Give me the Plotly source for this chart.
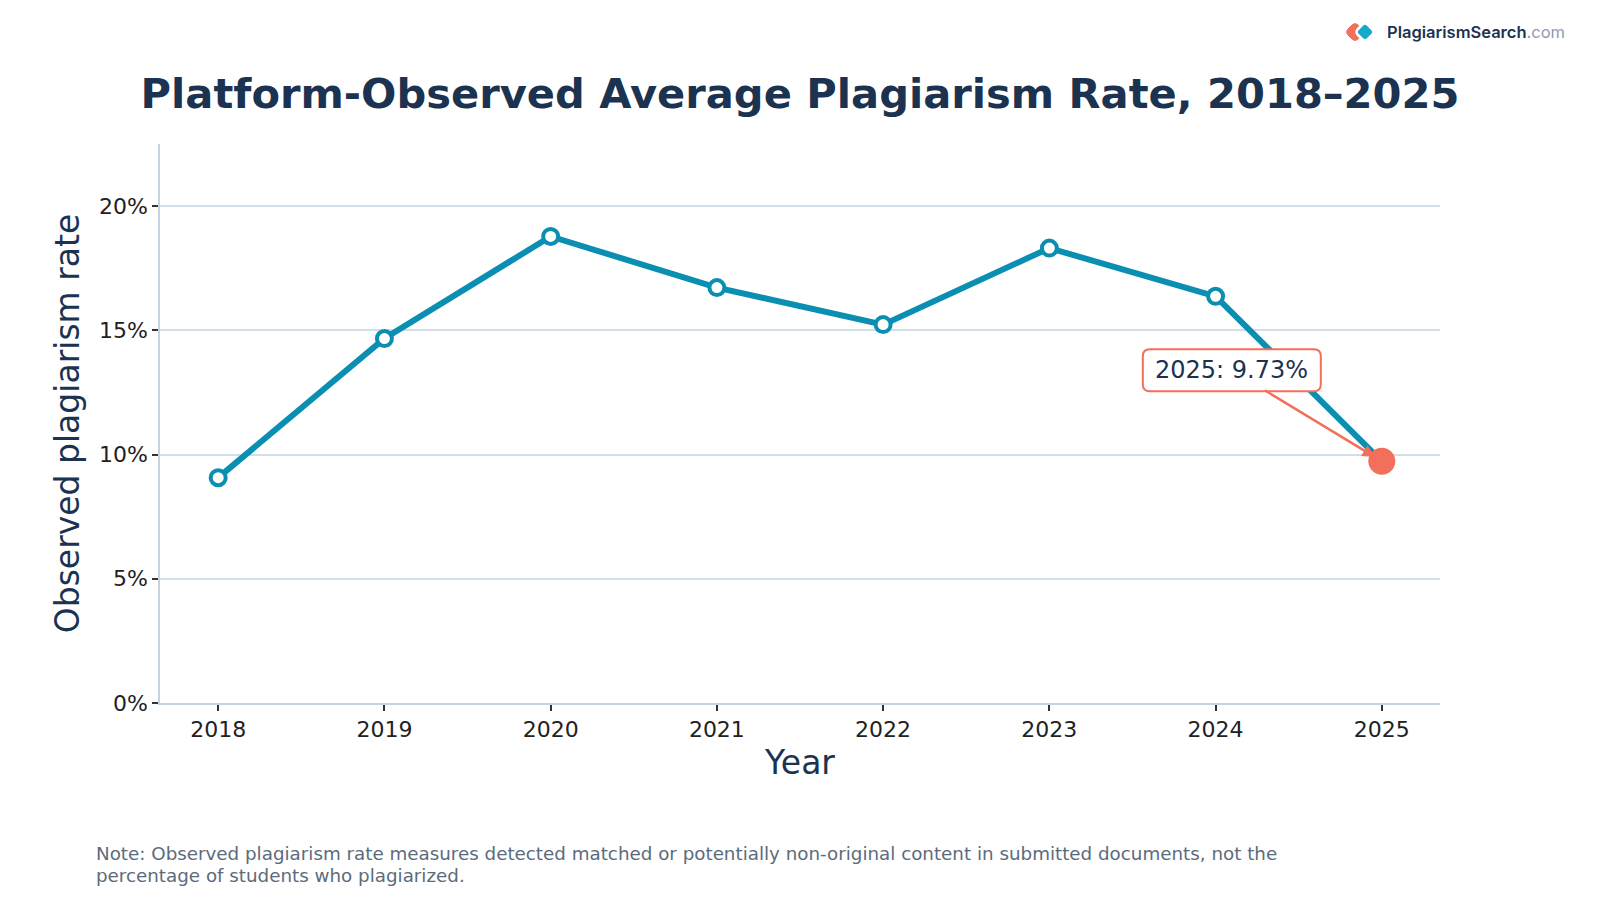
import plotly.graph_objects as go

years = [2018, 2019, 2020, 2021, 2022, 2023, 2024, 2025]
rates = [9.07, 14.67, 18.78, 16.72, 15.23, 18.31, 16.37, 9.73]
y_ticks = [0, 5, 10, 15, 20]
y_tick_labels = ["0%", "5%", "10%", "15%", "20%"]
note_lines = [
    "Note: Observed plagiarism rate measures detected matched or potentially non-original content in submitted documents, not the",
    "percentage of students who plagiarized.",
]

TEAL = "#0a8fb3"
CORAL = "#f26f5b"
NAVY = "#1b3350"
FONT = "DejaVu Sans"

fig = go.Figure()
fig.add_trace(go.Scatter(
    x=years, y=rates, mode="lines+markers",
    line=dict(color=TEAL, width=6),
    marker=dict(size=15, color="white", line=dict(color=TEAL, width=4)),
    showlegend=False, hoverinfo="x+y",
))
fig.add_trace(go.Scatter(
    x=[years[-1]], y=[rates[-1]], mode="markers",
    marker=dict(size=27, color=CORAL),
    showlegend=False,
))

# rounded annotation box (pixel offsets from the highlighted point)
x0, x1, y0, y1, r = -239, -61, 70, 112, 7
path = (f"M {x0+r},{y0} L {x1-r},{y0} Q {x1},{y0} {x1},{y0+r} L {x1},{y1-r} "
        f"Q {x1},{y1} {x1-r},{y1} L {x0+r},{y1} Q {x0},{y1} {x0},{y1-r} "
        f"L {x0},{y0+r} Q {x0},{y0} {x0+r},{y0} Z")
fig.add_shape(type="path", path=path, xref="x", yref="y",
              xsizemode="pixel", ysizemode="pixel",
              xanchor=years[-1], yanchor=rates[-1],
              fillcolor="white", line=dict(color=CORAL, width=2), layer="above")

fig.add_annotation(
    x=years[-1], y=rates[-1], xref="x", yref="y",
    text=f"{years[-1]}: {rates[-1]:.2f}%",
    font=dict(family=FONT, size=24, color=NAVY),
    ax=-150, ay=-91, showarrow=True,
    arrowcolor=CORAL, arrowwidth=2.5, arrowhead=2, arrowsize=1, standoff=8,
    bgcolor="rgba(0,0,0,0)", bordercolor="rgba(0,0,0,0)", borderwidth=2, borderpad=5,
)

# logo icon (rounded diamonds)
def rdiamond(cx, cy, h, k=3):
    return (f"M {cx-h+k},{cy+k} L {cx-k},{cy+h-k} Q {cx},{cy+h} {cx+k},{cy+h-k} "
            f"L {cx+h-k},{cy+k} Q {cx+h},{cy} {cx+h-k},{cy-k} "
            f"L {cx+k},{cy-h+k} Q {cx},{cy-h} {cx-k},{cy-h+k} "
            f"L {cx-h+k},{cy-k} Q {cx-h},{cy} {cx-h+k},{cy+k} Z")

fig.add_shape(type="path", path=rdiamond(-85, 112, 10), xref="paper", yref="paper",
              xsizemode="pixel", ysizemode="pixel", xanchor=1, yanchor=1,
              fillcolor=CORAL, line=dict(color=CORAL, width=1))
fig.add_shape(type="path", path=rdiamond(-75, 112, 10), xref="paper", yref="paper",
              xsizemode="pixel", ysizemode="pixel", xanchor=1, yanchor=1,
              fillcolor="#17a9c8", line=dict(color="white", width=2.5))
fig.add_annotation(
    x=0.957, y=1.2005, xref="paper", yref="paper", xanchor="left", yanchor="middle",
    text='<span style="font-weight:600">PlagiarismSearch</span><span style="color:#8d9cb8">.com</span>',
    font=dict(family="Inter", size=16.5, color=NAVY), showarrow=False,
)

for line_text, ypos in zip(note_lines, [-0.2692, -0.3077]):
    fig.add_annotation(
        x=-0.0515, y=ypos, xref="paper", yref="paper", xanchor="left", yanchor="middle",
        align="left", text=line_text,
        font=dict(family=FONT, size=18.3, color="#5c6b7c"), showarrow=False,
    )

fig.update_layout(
    width=1600, height=900,
    margin=dict(l=160, r=160, t=144, b=197),
    paper_bgcolor="white", plot_bgcolor="white",
    font=dict(family=FONT, color="#222222"),
    title=dict(text="<b>Platform-Observed Average Plagiarism Rate, 2018–2025</b>",
               x=0.5, xanchor="center", y=1 - 93 / 900, yanchor="middle",
               font=dict(family=FONT, size=41.6, color=NAVY)),
    xaxis=dict(range=[2017.65, 2025.35], tickvals=years, ticktext=[str(y) for y in years],
               showgrid=False, zeroline=False, showline=True, linecolor="#c7d4de", linewidth=1.5,
               ticks="outside", ticklen=6, tickwidth=2, tickcolor="#333333",
               tickfont=dict(size=22, color="#222222"),
               title=dict(text="Year", font=dict(size=33, color=NAVY), standoff=10)),
    yaxis=dict(range=[0, 22.5], tickvals=y_ticks, ticktext=y_tick_labels,
               showgrid=True, gridcolor="#d3dfe8", gridwidth=1.5, zeroline=False,
               showline=True, linecolor="#c7d4de", linewidth=1.5,
               ticks="outside", ticklen=6, tickwidth=2, tickcolor="#333333",
               tickfont=dict(size=22, color="#222222"),
               title=dict(text="Observed plagiarism rate", font=dict(size=33, color=NAVY), standoff=9)),
)

fig.write_html("out.html")
